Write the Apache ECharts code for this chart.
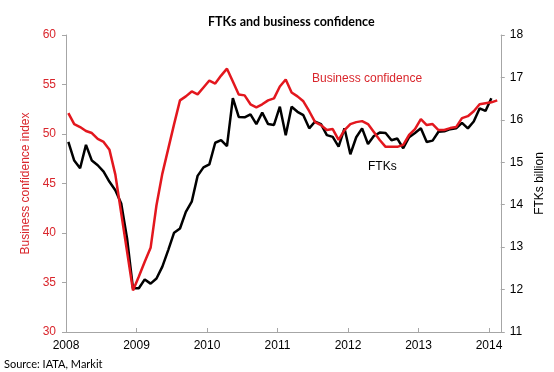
<!DOCTYPE html>
<html>
<head>
<meta charset="utf-8">
<script src="https://cdn.jsdelivr.net/npm/echarts@6/dist/echarts.min.js"></script>
<style>html,body{margin:0;padding:0;background:#fff}#c{width:554px;height:372px}</style>
</head>
<body>
<div id="c"></div>
<script>
// Month index 0 = Jan 2008
var startYear = 2008;
var yearTicks = [2008, 2009, 2010, 2011, 2012, 2013, 2014];
var leftTicks = [30, 35, 40, 45, 50, 55, 60];
var rightTicks = [11, 12, 13, 14, 15, 16, 17, 18];

// Business confidence index (left axis), Jan 2008 - Feb 2014
var businessConfidence = [
  52.1, 51.0, 50.7, 50.3, 50.1, 49.5, 49.2, 48.4, 45.9, 42.0, 38.1, 34.2,
  35.6, 37.1, 38.5, 42.8, 46.0, 48.5, 51.0, 53.4, 53.8, 54.3, 54.0, 54.7,
  55.4, 55.1, 55.9, 56.6, 55.3, 54.0, 53.9, 53.0, 52.7, 53.0, 53.4, 53.6,
  54.8, 55.5, 54.2, 53.8, 53.3, 52.3, 51.2, 50.9, 50.4, 50.5, 49.4, 50.4,
  51.0, 51.2, 51.3, 51.0, 50.2, 49.4, 48.7, 48.7, 48.7, 48.9, 49.9, 50.5,
  51.5, 50.9, 51.0, 50.4, 50.4, 50.6, 50.7, 51.6, 51.8, 52.3, 53.0, 53.1,
  53.2, 53.4
];

// FTKs, billion (right axis), Jan 2008 - Jan 2014
var ftks = [
  15.48, 15.04, 14.86, 15.41, 15.04, 14.93, 14.78, 14.54, 14.34, 14.03, 13.20, 12.03,
  12.03, 12.24, 12.14, 12.26, 12.54, 12.93, 13.34, 13.44, 13.83, 14.07, 14.68, 14.88,
  14.95, 15.46, 15.52, 15.38, 16.51, 16.07, 16.06, 16.13, 15.90, 16.17, 15.90, 15.88,
  16.31, 15.64, 16.31, 16.19, 16.11, 15.80, 15.96, 15.90, 15.64, 15.60, 15.37, 15.80,
  15.19, 15.59, 15.80, 15.43, 15.62, 15.70, 15.69, 15.52, 15.56, 15.33, 15.59, 15.69,
  15.80, 15.48, 15.51, 15.72, 15.73, 15.78, 15.80, 15.93, 15.80, 15.96, 16.27, 16.21,
  16.51
];

var RED = '#e3171e';
var RED_TXT = '#d9262c';
var AXIS_GRAY = '#a6a6a6';
var FONT = 'Liberation Sans, Arial, sans-serif';

function toPairs(arr) {
  return arr.map(function (v, i) { return [startYear + (i + 0.4) / 12, v]; });
}

var chart = echarts.init(document.getElementById('c'), null, {renderer: 'canvas'});
chart.setOption({
  animation: false,
  backgroundColor: '#fff',
  title: {
    text: 'FTKs and business confidence',
    left: 203, top: 10,
    textStyle: {fontFamily: 'Lato, Liberation Sans, sans-serif', fontWeight: 'bold', fontSize: 12.5, color: '#000'}
  },
  grid: {left: 66, right: 41, top: 35, bottom: 40, containLabel: false},
  xAxis: {
    type: 'value', min: 2008, max: 2014 + 2 / 12,
    axisLine: {lineStyle: {color: AXIS_GRAY, width: 1}},
    axisTick: {inside: true, length: 4, lineStyle: {color: AXIS_GRAY}, customValues: yearTicks},
    axisLabel: {customValues: yearTicks, color: '#000', fontFamily: FONT, fontSize: 12, margin: 8,
      formatter: function (v) { return String(Math.round(v)); }},
    splitLine: {show: false}
  },
  yAxis: [
    {
      type: 'value', position: 'left', min: 30, max: 60, interval: 5,
      name: 'Business confidence index', nameLocation: 'middle', nameGap: 27, nameRotate: 90,
      nameTextStyle: {color: RED_TXT, fontFamily: FONT, fontSize: 12},
      axisLine: {show: true, lineStyle: {color: AXIS_GRAY}},
      axisTick: {show: true, length: 4, lineStyle: {color: AXIS_GRAY}, customValues: leftTicks},
      axisLabel: {color: RED_TXT, fontFamily: FONT, fontSize: 12, margin: 10},
      splitLine: {show: false}
    },
    {
      type: 'value', position: 'right', min: 11, max: 18, interval: 1,
      name: 'FTKs billion', nameLocation: 'middle', nameGap: 20, nameRotate: 90,
      nameTextStyle: {color: '#000', fontFamily: FONT, fontSize: 12},
      axisLine: {show: true, lineStyle: {color: AXIS_GRAY}},
      axisTick: {show: true, length: 4, lineStyle: {color: AXIS_GRAY}, customValues: rightTicks},
      axisLabel: {color: '#000', fontFamily: FONT, fontSize: 12, margin: 9},
      splitLine: {show: false}
    }
  ],
  series: [
    {
      name: 'FTKs', type: 'line', yAxisIndex: 1, data: toPairs(ftks),
      showSymbol: false, symbol: 'none', lineStyle: {color: '#000', width: 2.5}, z: 2
    },
    {
      name: 'Business confidence', type: 'line', yAxisIndex: 0, data: toPairs(businessConfidence),
      showSymbol: false, symbol: 'none', lineStyle: {color: RED, width: 2.5}, z: 3
    }
  ],
  graphic: [
    {type: 'text', left: 312, top: 73, style: {text: 'Business confidence', fill: RED_TXT, font: '12px ' + FONT}},
    {type: 'text', left: 368, top: 161, style: {text: 'FTKs', fill: '#000', font: '12px ' + FONT}},
    {type: 'text', left: 4, top: 359, style: {text: 'Source: IATA, Markit', fill: '#000', font: '11px Lato, Liberation Sans, sans-serif'}}
  ]
});
</script>
</body>
</html>
